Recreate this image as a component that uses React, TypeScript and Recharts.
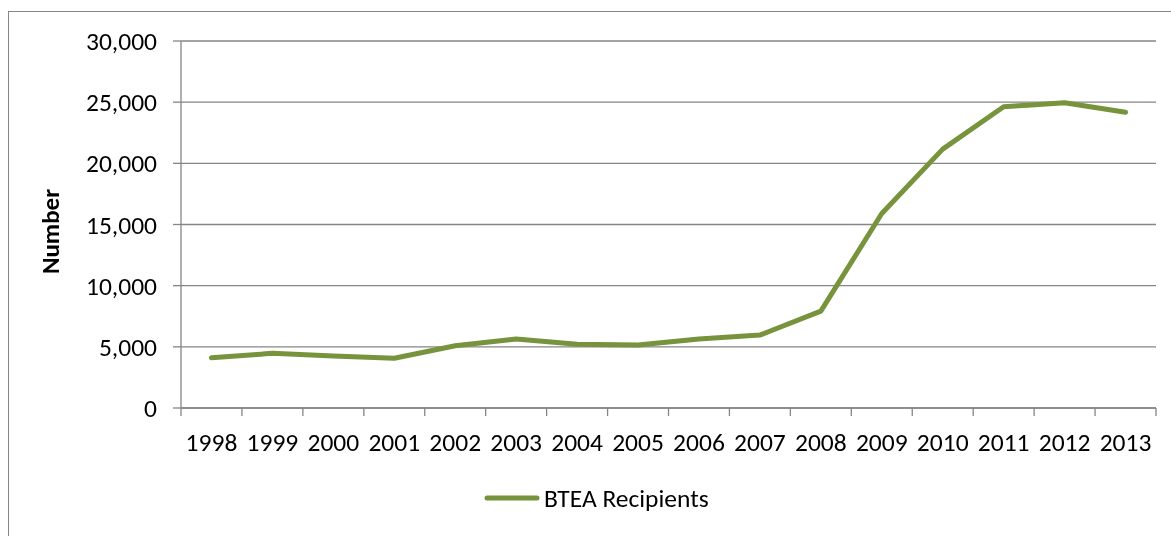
import React from "react";
import { LineChart, Line, XAxis, YAxis, CartesianGrid, Legend, Label } from "recharts";

const years = ["1998","1999","2000","2001","2002","2003","2004","2005","2006","2007","2008","2009","2010","2011","2012","2013"];
const recipients = [4110, 4470, 4250, 4070, 5090, 5640, 5220, 5150, 5640, 5960, 7920, 15900, 21160, 24620, 24950, 24170];
const yTicks = [0, 5000, 10000, 15000, 20000, 25000, 30000];
const seriesName = "BTEA Recipients";
const yLabel = "Number";

const data = years.map((y, i) => ({ year: y, value: recipients[i] }));

const W = 1163;
const H = 520;
const margin = { top: 33, right: 15, left: 0, bottom: 40 };
const yAxisWidth = 173;
const plotWidth = W - margin.left - margin.right - yAxisWidth;
const band = plotWidth / years.length;
const FONT = "Carlito, Lato, 'Open Sans', sans-serif";
const FS = 25.5;
const GRAY = "#868686";
const GREEN = "#77933C";

const XTick = (props: any) => {
  const { x, y, payload, index } = props;
  const axisY = y - 8 - 17;
  return (
    <g>
      <line x1={x - band / 2} x2={x - band / 2} y1={axisY} y2={axisY + 8} stroke={GRAY} strokeWidth={1.3} />
      {index === years.length - 1 && (
        <line x1={x + band / 2} x2={x + band / 2} y1={axisY} y2={axisY + 8} stroke={GRAY} strokeWidth={1.3} />
      )}
      <text x={x} y={y} dy="0.71em" textAnchor="middle" fill="#000" fontSize={FS} fontFamily={FONT}>
        {payload.value}
      </text>
    </g>
  );
};

const LegendContent = () => (
  <div style={{ display: "flex", alignItems: "center", height: 40, paddingLeft: 476, fontFamily: FONT, fontSize: FS, color: "#000" }}>
    <svg width={56} height={10} style={{ marginRight: 4 }}>
      <line x1={3} x2={53} y1={5} y2={5} stroke={GREEN} strokeWidth={5} strokeLinecap="round" />
    </svg>
    <span>{seriesName}</span>
  </div>
);

export default function App() {
  return (
    <div style={{ width: W, height: H, position: "relative" }}>
      <div style={{ position: "fixed", left: 8, top: 11, width: W + 60, height: H + 60, border: `1.3px solid ${GRAY}`, boxSizing: "border-box" }} />
      <div style={{ position: "absolute", left: 0, top: 0 }}>
        <LineChart width={W} height={H} data={data} margin={margin}>
          <CartesianGrid vertical={false} stroke={GRAY} strokeWidth={1.3} />
          <XAxis
            dataKey="year"
            height={40}
            padding={{ left: band / 2, right: band / 2 }}
            axisLine={{ stroke: GRAY, strokeWidth: 1.3 }}
            tickLine={false}
            tickSize={8}
            tickMargin={17}
            interval={0}
            tick={<XTick />}
          />
          <YAxis
            width={yAxisWidth}
            domain={[0, 30000]}
            ticks={yTicks}
            interval={0}
            tickFormatter={(v: number) => v.toLocaleString("en-US")}
            axisLine={{ stroke: GRAY, strokeWidth: 1.3 }}
            tickLine={{ stroke: GRAY, strokeWidth: 1.3 }}
            tickSize={8}
            tickMargin={16}
            tick={{ fill: "#000", fontSize: FS, fontFamily: FONT }}
          >
            <Label
              content={(p: any) => {
                const vb = p.viewBox;
                const cx = vb.x + 42;
                const cy = vb.y + vb.height / 2 + 7;
                return (
                  <text x={cx} y={cy} transform={`rotate(-90, ${cx}, ${cy})`} textAnchor="middle" dominantBaseline="central" fontWeight="bold" fontSize={25} fontFamily={FONT} fill="#000">
                    {yLabel}
                  </text>
                );
              }}
            />
          </YAxis>
          <Legend verticalAlign="bottom" content={<LegendContent />} wrapperStyle={{ left: 0, top: 470, width: W, height: 40 }} />
          <Line type="linear" dataKey="value" name={seriesName} stroke={GREEN} strokeWidth={5} strokeLinecap="round" strokeLinejoin="round" dot={false} isAnimationActive={false} />
        </LineChart>
      </div>
    </div>
  );
}
